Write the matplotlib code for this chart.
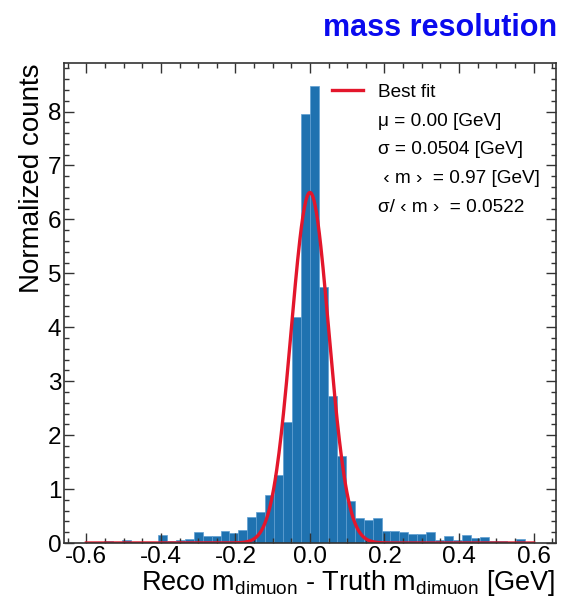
import numpy as np
import matplotlib
matplotlib.use("Agg")
import matplotlib.pyplot as plt
from matplotlib.lines import Line2D

# Histogram: 50 bins from -0.6 to 0.6 GeV (width 0.024), normalized counts
bin_lo, bin_hi, n_bins = -0.6, 0.6, 50
heights = [
    0.01, 0.02, 0.04, 0.01, 0.06, 0.02, 0.01, 0.02, 0.15, 0.04,
    0.06, 0.07, 0.20, 0.13, 0.13, 0.22, 0.19, 0.24, 0.49, 0.57,
    0.89, 1.27, 2.24, 4.19, 7.95, 8.48, 4.75, 2.72, 1.62, 0.77,
    0.46, 0.43, 0.46, 0.23, 0.23, 0.21, 0.17, 0.17, 0.20, 0.06,
    0.13, 0.05, 0.15, 0.10, 0.11, 0.03, 0.03, 0.02, 0.08, 0.02,
]

# Gaussian fit parameters shown in the legend
fit_mu = 0.00
fit_sigma = 0.0504
fit_amp = 6.5
mean_mass = 0.97

legend_labels = [
    "Best fit",
    "\u03bc = 0.00 [GeV]",
    "\u03c3 = 0.0504 [GeV]",
    " \u2039 m \u203a  = 0.97 [GeV]",
    "\u03c3/ \u2039 m \u203a  = 0.0522",
]

plt.rcParams['font.family'] = ['Liberation Sans', 'DejaVu Sans']
plt.rcParams['mathtext.fontset'] = 'custom'
plt.rcParams['mathtext.rm'] = 'Liberation Sans'
plt.rcParams['mathtext.it'] = 'Liberation Sans:italic'

fig = plt.figure(figsize=(5.74, 6.03), dpi=100)
ax = fig.add_axes([0.1115, 0.0995, 0.857, 0.796])

edges = np.linspace(bin_lo, bin_hi, n_bins + 1)
ax.bar(edges[:-1], heights, width=np.diff(edges), align='edge',
       color='#1f72b0', edgecolor='#5f9fd2', linewidth=0.5)

xs = np.linspace(bin_lo, bin_hi, 600)
ax.plot(xs, fit_amp * np.exp(-0.5 * ((xs - fit_mu) / fit_sigma) ** 2),
        color='#e3162b', lw=2.4)

ax.set_xlim(-0.66, 0.66)
ax.set_ylim(0, 8.9)
ax.set_xticks([-0.6, -0.4, -0.2, 0.0, 0.2, 0.4, 0.6])
ax.set_xticks(np.arange(-0.65, 0.66, 0.05), minor=True)
ax.set_yticks(range(0, 9))
ax.set_yticks(np.arange(0, 8.9, 0.2), minor=True)
ax.set_xticklabels(['-0.6', '-0.4', '-0.2', '0.0', '0.2', '0.4', '0.6'])

ax.tick_params(which='both', direction='in', top=True, right=True,
               labelsize=17.5, width=1.0, color='#333333')
ax.tick_params(which='major', length=7.5, pad=2)
ax.tick_params(which='minor', length=3.5)
for sp in ax.spines.values():
    sp.set_linewidth(1.2)
    sp.set_color('#333333')

ax.set_xlabel(r"Reco m$_{\mathrm{dimuon}}$ - Truth m$_{\mathrm{dimuon}}$ [GeV]",
              fontsize=19.5, loc='right', labelpad=0)
ax.set_ylabel("Normalized counts", fontsize=20, loc='top', labelpad=2)

handles = [Line2D([], [], color='#e3162b', lw=2.4)]
handles += [Line2D([], [], color='none') for _ in legend_labels[1:]]
ax.legend(handles, legend_labels, loc='upper left', bbox_to_anchor=(0.544, 0.957),
          frameon=False, fontsize=13.7, borderpad=0, borderaxespad=0,
          handlelength=1.65, handletextpad=0.8, labelspacing=0.6)

fig.text(0.970, 0.953, "mass resolution", color='#0a0aee', fontsize=22,
         fontweight='bold', ha='right', va='center',
         family=['Liberation Sans Narrow', 'Liberation Sans'])

fig.savefig('out.png', dpi=100, facecolor='white')
